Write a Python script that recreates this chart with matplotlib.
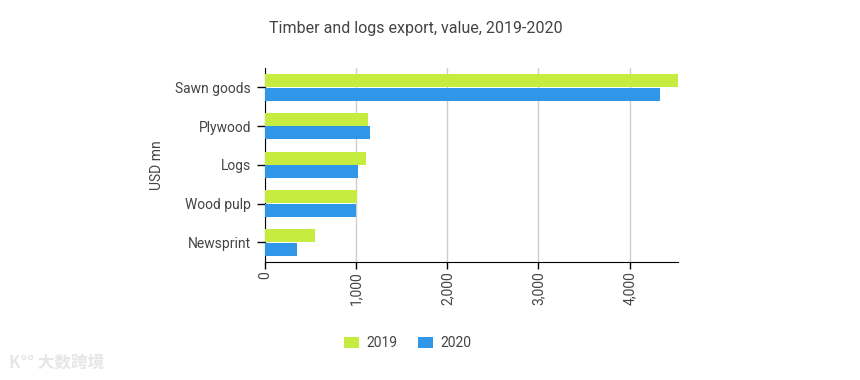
#!/usr/bin/env python3

#imports
import matplotlib
matplotlib.use("Agg")
import matplotlib.pyplot as plt
import matplotlib.ticker as mticker
import numpy as np

#data
categories = ["Sawn goods", "Plywood", "Logs", "Wood pulp", "Newsprint"]
values_2019 = [4528, 1134, 1112, 1015, 554]
values_2020 = [4331, 1156, 1026, 1004, 353]
series_names = ["2019", "2020"]
x_ticks = [0, 1000, 2000, 3000, 4000]

#style
plt.rcParams['font.family'] = ['Roboto', 'DejaVu Sans']
text_color = "#444444"
green = "#c5ec3f"
blue = "#3096e8"


def main():
    fig = plt.figure(figsize=(8.6, 3.8), dpi=100)
    ax = fig.add_axes([0.308, 0.311, 0.48, 0.51])

    y = np.arange(len(categories))
    h = 0.335
    ax.barh(y - 0.175, values_2019, height=h, color=green, label=series_names[0], zorder=3)
    ax.barh(y + 0.175, values_2020, height=h, color=blue, label=series_names[1], zorder=3)

    ax.set_ylim(len(categories) - 0.5, -0.5)
    ax.set_xlim(0, max(values_2019 + values_2020))
    ax.set_yticks(y)
    ax.set_yticklabels(categories, fontsize=10, color=text_color)
    ax.set_xticks(x_ticks)
    ax.xaxis.set_major_formatter(mticker.FuncFormatter(lambda v, p: f"{int(v):,}"))
    for lab in ax.get_xticklabels():
        lab.set_rotation(90)
        lab.set_fontsize(10)
        lab.set_color(text_color)

    ax.grid(axis="x", color="#cccccc", linewidth=1, zorder=0)
    for s in ["top", "right"]:
        ax.spines[s].set_visible(False)
    ax.spines["left"].set_color("black")
    ax.spines["bottom"].set_color("black")
    ax.tick_params(axis="y", length=6, width=1, pad=4)
    ax.tick_params(axis="x", length=5, width=1, pad=2)

    ax.set_ylabel("USD mn", fontsize=10, color=text_color, labelpad=8)

    fig.text(0.484, 0.925, "Timber and logs export, value, 2019-2020",
             ha="center", va="center", fontsize=11.5, color=text_color)

    fig.legend(loc="center", bbox_to_anchor=(0.474, 0.097), ncol=2, frameon=False,
               fontsize=10, handlelength=1.1, handleheight=0.9, handletextpad=0.5,
               columnspacing=1.5, labelcolor=text_color)

    fig.text(0.01, 0.045, "K°° 大数跨境", family=['Noto Sans CJK SC', 'DejaVu Sans'],
             fontsize=12, color="#e6e6e6", fontweight="bold", ha="left", va="center")

    fig.savefig("out.png", dpi=100)


if __name__ == "__main__":
    main()
